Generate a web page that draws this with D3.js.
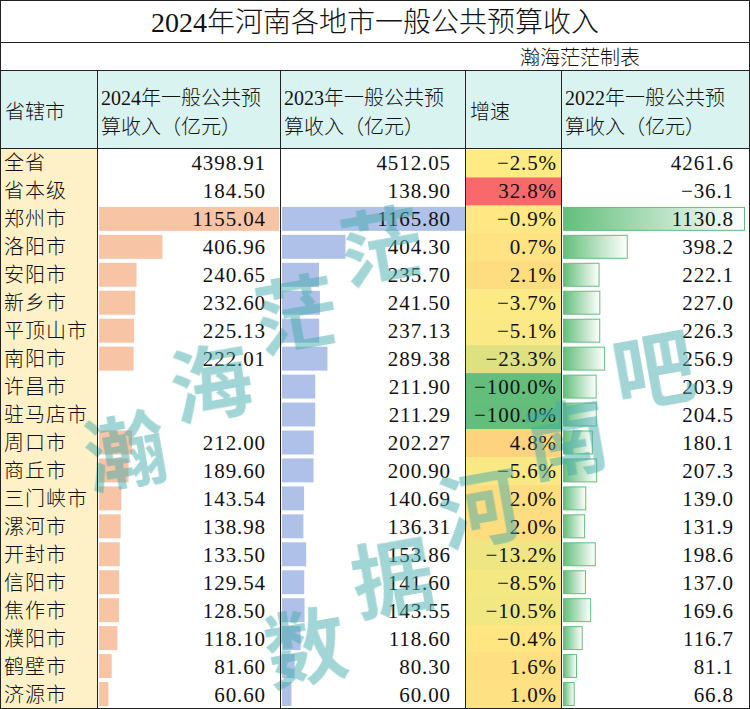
<!DOCTYPE html>
<html>
<head>
<meta charset="utf-8">
<script src="https://cdn.jsdelivr.net/npm/d3@7"></script>
<style>
html,body{margin:0;padding:0;background:#fff;}
svg{display:block;}
</style>
</head>
<body>
<svg id="chart" width="750" height="709"></svg>
<script>
const title = "2024年河南各地市一般公共预算收入";
const author = "瀚海茫茫制表";
const headers = [
  ["省辖市"],
  ["2024年一般公共预", "算收入（亿元）"],
  ["2023年一般公共预", "算收入（亿元）"],
  ["增速"],
  ["2022年一般公共预", "算收入（亿元）"]
];
const cities = ["全省","省本级","郑州市","洛阳市","安阳市","新乡市","平顶山市","南阳市","许昌市","驻马店市","周口市","商丘市","三门峡市","漯河市","开封市","信阳市","焦作市","濮阳市","鹤壁市","济源市"];
const rev2024 = [4398.91,184.50,1155.04,406.96,240.65,232.60,225.13,222.01,null,null,212.00,189.60,143.54,138.98,133.50,129.54,128.50,118.10,81.60,60.60];
const rev2023 = [4512.05,138.90,1165.80,404.30,235.70,241.50,237.13,289.38,211.90,211.29,202.27,200.90,140.69,136.31,153.86,141.60,143.55,118.60,80.30,60.00];
const growth  = [-2.5,32.8,-0.9,0.7,2.1,-3.7,-5.1,-23.3,-100.0,-100.0,4.8,-5.6,2.0,2.0,-13.2,-8.5,-10.5,-0.4,1.6,1.0];
const rev2022 = [4261.6,-36.1,1130.8,398.2,222.1,227.0,226.3,256.9,203.9,204.5,180.1,207.3,139.0,131.9,198.6,137.0,169.6,116.7,81.1,66.8];
const barExcluded = ["全省","省本级"];
const watermarkLine1 = ["瀚","海","茫","茫"];
const watermarkLine2 = ["数","据","河","南","吧"];

const W = 750, H = 709;
const colX = [0, 97, 280, 465, 561, 750];
const titleY1 = 42.5, subY1 = 70.5, headY1 = 148.5, bodyY1 = 708.5;

const svg = d3.select("#chart");
const cjk = "'Noto Sans CJK SC', sans-serif";
const numFont = "'Liberation Serif', 'Noto Sans CJK SC', serif";

const y = d3.scaleBand().domain(cities).range([headY1 + 1, bodyY1]).paddingInner(0).paddingOuter(0);

const isBar = c => !barExcluded.includes(c);
const barRows = cities.map((c,i)=>i).filter(i => isBar(cities[i]));

const x24 = d3.scaleLinear().domain([0, d3.max(barRows, i => rev2024[i] || 0)]).range([colX[1] + 2, colX[2] - 1]);
const x23 = d3.scaleLinear().domain([0, d3.max(barRows, i => rev2023[i])]).range([colX[2] + 2, colX[3]]);
const x22 = d3.scaleLinear().domain([0, d3.max(barRows, i => rev2022[i])]).range([colX[4] + 2, colX[5] - 6]);

const sortedG = growth.slice().sort(d3.ascending);
const gMid = d3.quantile(sortedG, 0.5);
const gColor = d3.scaleLinear().domain([d3.min(growth), gMid, d3.max(growth)]).range(["#63BE7B", "#FFEB84", "#F8696B"]).interpolate(d3.interpolateRgb);

const defs = svg.append("defs");
const grad = defs.append("linearGradient").attr("id", "g22").attr("x1", "0").attr("x2", "1").attr("y1", "0").attr("y2", "0");
grad.append("stop").attr("offset", "0%").attr("stop-color", "#63BE7B");
grad.append("stop").attr("offset", "100%").attr("stop-color", "#FFFFFF");

svg.append("rect").attr("x", 0).attr("y", 0).attr("width", W).attr("height", H).attr("fill", "#fff");
svg.append("rect").attr("x", 0).attr("y", subY1).attr("width", W).attr("height", headY1 - subY1).attr("fill", "#D9F3F0");
svg.append("rect").attr("x", 0).attr("y", headY1).attr("width", colX[1]).attr("height", bodyY1 - headY1).attr("fill", "#FFF1C7");

svg.append("g").selectAll("rect").data(cities).join("rect")
  .attr("x", colX[3]).attr("y", d => y(d))
  .attr("width", colX[4] - colX[3]).attr("height", y.bandwidth() + 0.5)
  .attr("fill", (d,i) => gColor(growth[i]));

const bh = y.bandwidth() - 4;
svg.append("g").selectAll("rect").data(barRows.filter(i => rev2024[i] != null)).join("rect")
  .attr("x", x24(0)).attr("y", i => y(cities[i]) + 1.5)
  .attr("width", i => x24(rev2024[i]) - x24(0)).attr("height", bh)
  .attr("fill", "#F7C4A6");
svg.append("g").selectAll("rect").data(barRows).join("rect")
  .attr("x", x23(0)).attr("y", i => y(cities[i]) + 1.5)
  .attr("width", i => x23(rev2023[i]) - x23(0)).attr("height", bh)
  .attr("fill", "#AFC1E8");
svg.append("g").selectAll("rect").data(barRows).join("rect")
  .attr("x", x22(0) + 0.5).attr("y", i => y(cities[i]) + 2)
  .attr("width", i => x22(rev2022[i]) - x22(0)).attr("height", bh - 1)
  .attr("fill", "url(#g22)").attr("stroke", "#63BE7B").attr("stroke-width", 1);

svg.append("text").attr("x", 375).attr("y", 32).attr("text-anchor", "middle")
  .attr("font-family", numFont).attr("font-size", 28).attr("font-weight", 300).attr("fill", "#111").text(title);
svg.append("text").attr("x", 640).attr("y", 65).attr("text-anchor", "end")
  .attr("font-family", cjk).attr("font-size", 20).attr("font-weight", 300).attr("fill", "#111").text(author);

headers.forEach((lines, k) => {
  const g = svg.append("text").attr("font-family", numFont).attr("font-size", 20).attr("font-weight", 300).attr("fill", "#111");
  if (lines.length === 1) {
    g.append("tspan").attr("x", colX[k] + 5).attr("y", 119).text(lines[0]);
  } else {
    g.append("tspan").attr("x", colX[k] + 4).attr("y", 105).text(lines[0]);
    g.append("tspan").attr("x", colX[k] + 4).attr("y", 134).text(lines[1]);
  }
});

const base = d => y(d) + y.bandwidth() / 2 + 7;
svg.append("g").selectAll("text").data(cities).join("text")
  .attr("x", 4).attr("y", d => base(d))
  .attr("font-family", cjk).attr("font-size", 20).attr("font-weight", 300).attr("fill", "#111")
  .attr("letter-spacing", 1).text(d => d);

function numCol(vals, xr, fmt) {
  svg.append("g").selectAll("text").data(cities).join("text")
    .attr("x", xr).attr("y", d => base(d)).attr("text-anchor", "end")
    .attr("font-family", numFont).attr("font-size", 21).attr("letter-spacing", 0.9).attr("fill", "#111")
    .text((d,i) => vals[i] == null ? "" : fmt(vals[i]));
}
numCol(rev2024, 266, d3.format(".2f"));
numCol(rev2023, 451, d3.format(".2f"));
numCol(growth, 557, v => d3.format(".1f")(v) + "%");
numCol(rev2022, 734, d3.format(".1f"));

// watermark: two diagonal lines of characters
function wmLayer(chars, x0, y0, x1, y1) {
  const t = d3.scaleLinear().domain([0, chars.length - 1]);
  const xs = t.copy().range([x0, x1]), ys = t.copy().range([y0, y1]);
  svg.append("g").attr("opacity", 0.5).selectAll("text").data(chars).join("text")
    .attr("transform", (d, i) => `translate(${xs(i)},${ys(i)}) rotate(-10)`)
    .attr("text-anchor", "middle").attr("dy", "0.35em")
    .attr("font-family", cjk).attr("font-size", 82).attr("font-weight", 700)
    .attr("fill", "#45AAAA").text(d => d);
}
wmLayer(watermarkLine1, 126, 453, 382, 248);
wmLayer(watermarkLine2, 306, 649, 654, 371);

const line = (x1, y1, x2, y2, c, w) => svg.append("line").attr("x1", x1).attr("y1", y1).attr("x2", x2).attr("y2", y2)
  .attr("stroke", c).attr("stroke-width", w || 1);
line(0, 0.5, W, 0.5, "#222");
line(0, titleY1, W, titleY1, "#222");
line(0, subY1, W, subY1, "#222");
line(0, headY1, W, headY1, "#222");
line(0, bodyY1, W, bodyY1, "#222");
line(0.5, 0, 0.5, H, "#222");
line(W - 0.5, 0, W - 0.5, H, "#222");
colX.slice(1, 5).forEach(cx => line(cx + 0.5, subY1, cx + 0.5, bodyY1, "#222"));
</script>
</body>
</html>
